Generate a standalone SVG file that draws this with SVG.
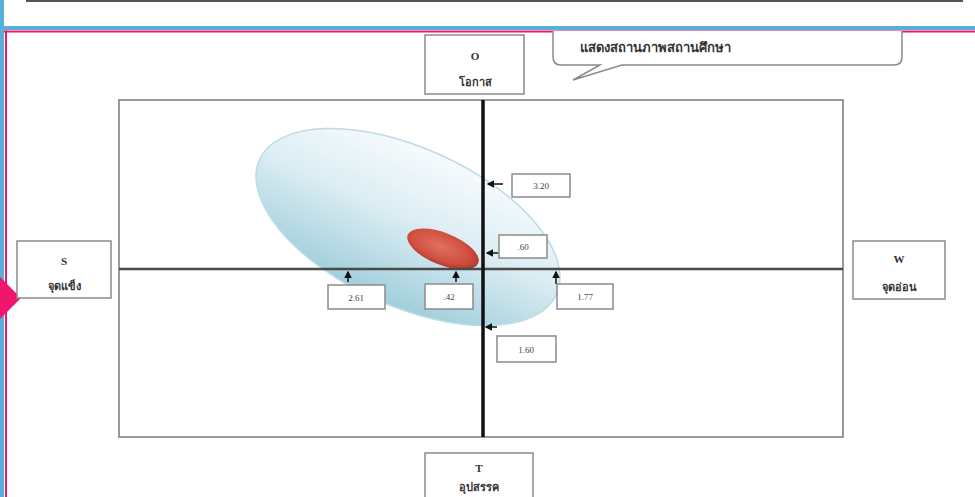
<svg xmlns="http://www.w3.org/2000/svg" width="975" height="497" viewBox="0 0 975 497">
<defs>
<style>
.lbl{fill:#fff;stroke:#8a8a8a;stroke-width:1.5}
.t{font-family:"Liberation Serif","Noto Sans","DejaVu Sans",serif;font-size:11px;fill:#333;text-anchor:middle;font-weight:bold}
.v{font-family:"Liberation Serif","DejaVu Serif",serif;font-size:9px;fill:#444;text-anchor:middle}
.mk{stroke:#111;stroke-width:1.5;fill:none}
</style>
<marker id="ah" viewBox="0 0 10 10" refX="8" refY="5" markerWidth="5" markerHeight="5" orient="auto">
<path d="M0,0 L10,5 L0,10 z" fill="#111"/>
</marker>
<linearGradient id="gBlue" x1="0" y1="0" x2="0" y2="1">
<stop offset="0" stop-color="#f6fbfd"/>
<stop offset="0.45" stop-color="#dcedf3"/>
<stop offset="1" stop-color="#9fcedb"/>
</linearGradient>
<radialGradient id="gRed" cx="0.45" cy="0.45" r="0.6">
<stop offset="0" stop-color="#e2705f"/>
<stop offset="0.7" stop-color="#cf4f40"/>
<stop offset="1" stop-color="#a8322a"/>
</radialGradient>
</defs>
<rect width="975" height="497" fill="#fff"/>
<g id="frame-top">
<line x1="26" y1="1" x2="963" y2="1" stroke="#555" stroke-width="2"/>
<rect x="0" y="0" width="4" height="497" fill="#5aafd8"/>
<rect x="0" y="26" width="975" height="4" fill="#5aafd8"/>
<rect x="4" y="30.5" width="971" height="2" fill="#e8196e"/>
<rect x="5" y="30.5" width="2" height="467" fill="#e8196e"/>
<polygon points="0,277 21,298 0,319" fill="#f0166e"/>
</g>
<g id="chart">
<rect x="119" y="100" width="724" height="337" fill="#fff" stroke="#8f8f8f" stroke-width="1.8"/>
</g>
<g id="ellipse-large">
<ellipse cx="408" cy="227" rx="163" ry="79" transform="rotate(24.4 408 227)" fill="url(#gBlue)" stroke="#bcdbe4" stroke-width="1.5"/>
</g>
<g id="ellipse-small">
<ellipse cx="443" cy="249" rx="38" ry="16" transform="rotate(22 443 249)" fill="url(#gRed)"/>
</g>
<g id="connectors">
<line x1="119" y1="269" x2="843" y2="269" stroke="#4a4a4a" stroke-width="2.5"/>
<line x1="483" y1="100" x2="483" y2="437" stroke="#111" stroke-width="3.5"/>
<line class="mk" x1="503" y1="184" x2="488" y2="184" marker-end="url(#ah)"/>
<line class="mk" x1="498" y1="253" x2="487" y2="253" marker-end="url(#ah)"/>
<line class="mk" x1="497" y1="327" x2="486" y2="327" marker-end="url(#ah)"/>
<line class="mk" x1="348" y1="282" x2="348" y2="272" marker-end="url(#ah)"/>
<line class="mk" x1="456" y1="282" x2="456" y2="272" marker-end="url(#ah)"/>
<line class="mk" x1="556" y1="284" x2="556" y2="272" marker-end="url(#ah)"/>
</g>
<g id="val-320"><rect class="lbl" x="512" y="174" width="58" height="23"/><text class="v" x="541" y="189">3.20</text></g>
<g id="val-60"><rect class="lbl" x="499" y="235" width="48" height="23"/><text class="v" x="523" y="250">.60</text></g>
<g id="val-261"><rect class="lbl" x="328" y="285" width="57" height="24"/><text class="v" x="356" y="301">2.61</text></g>
<g id="val-42"><rect class="lbl" x="425" y="284" width="48" height="25"/><text class="v" x="449" y="300">.42</text></g>
<g id="val-177"><rect class="lbl" x="557" y="284" width="56" height="25"/><text class="v" x="585" y="300">1.77</text></g>
<g id="val-160"><rect class="lbl" x="497" y="336" width="59" height="26"/><text class="v" x="526" y="353">1.60</text></g>
<g id="node-O"><rect class="lbl" x="425" y="35" width="99" height="59"/><text class="t" x="475" y="60">O</text><text class="t" x="475" y="86">โอกาส</text></g>
<g id="node-S"><rect class="lbl" x="17" y="241" width="94" height="57"/><text class="t" x="64" y="265">S</text><text class="t" x="64" y="290">จุดแข็ง</text></g>
<g id="node-W"><rect class="lbl" x="853" y="241" width="92" height="58"/><text class="t" x="899" y="263">W</text><text class="t" x="899" y="291">จุดอ่อน</text></g>
<g id="node-T"><rect class="lbl" x="425" y="453" width="108" height="60"/><text class="t" x="479" y="472">T</text><text class="t" x="479" y="491">อุปสรรค</text></g>
<g id="callout">
<path d="M553,31 L553,57 Q553,65 561,65 L600,65 L573,80 L622,65 L894,65 Q902,65 902,57 L902,31" fill="#fff" stroke="#8a8a8a" stroke-width="1.5"/>
<text class="t" x="580" y="52" style="text-anchor:start;font-size:13px">แสดงสถานภาพสถานศึกษา</text>
</g>
</svg>
